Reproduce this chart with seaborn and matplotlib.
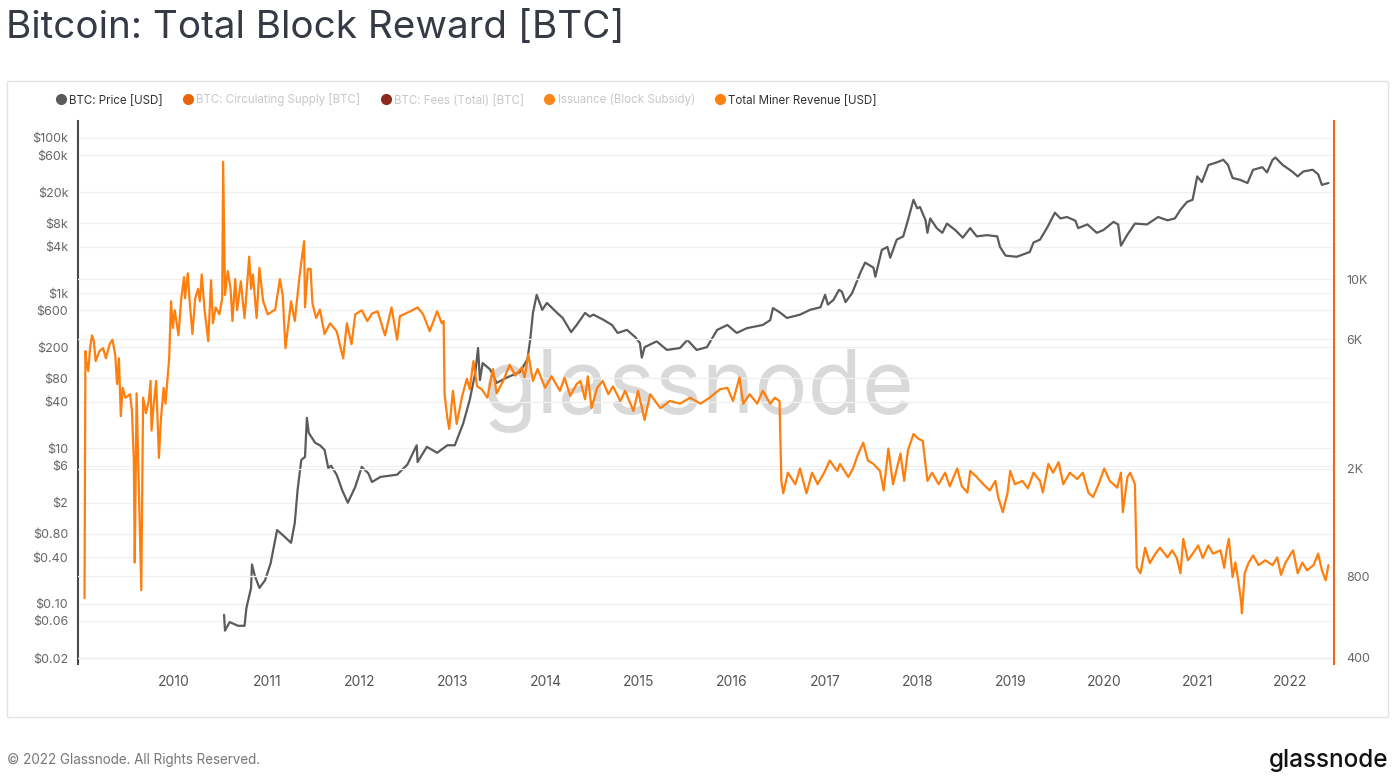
import matplotlib
matplotlib.use('Agg')
import matplotlib.pyplot as plt
from matplotlib.lines import Line2D
from matplotlib.patches import Rectangle
from matplotlib.ticker import NullLocator
import seaborn as sns

sns.set_style('white')
plt.rcParams['font.family'] = ['Inter', 'DejaVu Sans']

# BTC price (USD), x in decimal years
price_years = [2010.54, 2010.55, 2010.60, 2010.69, 2010.76, 2010.78, 2010.83, 2010.84, 2010.87, 2010.92, 2010.98,
               2011.04, 2011.11, 2011.19, 2011.26, 2011.30, 2011.33, 2011.37, 2011.41, 2011.43, 2011.45, 2011.52,
               2011.57, 2011.62, 2011.66, 2011.69, 2011.75, 2011.81, 2011.87, 2011.95,
               2012.02, 2012.09, 2012.13, 2012.22, 2012.40, 2012.51, 2012.61, 2012.62, 2012.72, 2012.83, 2012.94,
               2013.02, 2013.11, 2013.18, 2013.24, 2013.27, 2013.29, 2013.32, 2013.40, 2013.47, 2013.58, 2013.72,
               2013.80, 2013.83, 2013.86, 2013.90, 2013.96,
               2014.01, 2014.12, 2014.18, 2014.27, 2014.33, 2014.42, 2014.47, 2014.51, 2014.61, 2014.71, 2014.77,
               2014.87, 2014.96,
               2015.01, 2015.03, 2015.06, 2015.19, 2015.30, 2015.44, 2015.52, 2015.62, 2015.73, 2015.84, 2015.95,
               2016.05, 2016.16, 2016.33, 2016.41, 2016.44, 2016.52, 2016.59, 2016.73, 2016.84, 2016.95,
               2017.00, 2017.03, 2017.09, 2017.15, 2017.18, 2017.22, 2017.29, 2017.38, 2017.43, 2017.52, 2017.54,
               2017.61, 2017.67, 2017.70, 2017.77, 2017.84, 2017.89, 2017.95, 2017.99,
               2018.02, 2018.08, 2018.10, 2018.13, 2018.20, 2018.26, 2018.31, 2018.40, 2018.48, 2018.56, 2018.63,
               2018.74, 2018.85, 2018.88, 2018.94,
               2019.06, 2019.20, 2019.24, 2019.31, 2019.39, 2019.47, 2019.53, 2019.60, 2019.69, 2019.72, 2019.82,
               2019.92, 2019.99,
               2020.10, 2020.15, 2020.18, 2020.25, 2020.33, 2020.46, 2020.58, 2020.68, 2020.76, 2020.82, 2020.89,
               2020.95,
               2021.00, 2021.05, 2021.12, 2021.22, 2021.28, 2021.33, 2021.38, 2021.46, 2021.54, 2021.60, 2021.70,
               2021.75, 2021.81, 2021.84, 2021.92,
               2022.02, 2022.08, 2022.14, 2022.24, 2022.30, 2022.34, 2022.41]
price_usd = [0.072, 0.045, 0.058, 0.052, 0.052, 0.088, 0.16, 0.32, 0.23, 0.16, 0.20,
             0.33, 0.89, 0.73, 0.61, 1.10, 2.9, 7.1, 7.8, 24.8, 15.9, 11.8,
             11.0, 9.6, 5.6, 6.0, 4.6, 2.9, 2.0, 3.2,
             5.8, 4.8, 3.7, 4.3, 4.6, 6.2, 11.0, 6.7, 10.5, 8.8, 11,
             11, 21, 42, 94, 197, 76, 126, 104, 70, 82, 97,
             140, 250, 558, 953, 612,
             750, 558, 480, 316, 390, 558, 500, 530, 460, 390, 308,
             337, 272,
             228, 148, 202, 240, 186, 197, 250, 186, 202, 337, 390,
             308, 355, 390, 450, 644, 560, 480, 530, 612, 660,
             953, 715, 820, 1105, 1050, 770, 1000, 1850, 2480, 2140, 1630,
             3620, 3950, 2870, 4900, 5400, 8700, 16000, 12400,
             12900, 8700, 6000, 9200, 6900, 6000, 7900, 6500, 5200, 6900, 5400,
             5600, 5400, 3950, 3050,
             2950, 3400, 4500, 4900, 7100, 10900, 9200, 9600, 8600, 6900, 7700,
             6000, 6500,
             8300, 7700, 4100, 5700, 7900, 7700, 9600, 8700, 9200, 11900, 15000,
             16000,
             32000, 27000, 44800, 49000, 52400, 45000, 30500, 28900, 26300, 38900, 42000,
             36000, 52400, 56000, 44800,
             37000, 32000, 37000, 39000, 34000, 24900, 26300]

# Total block reward (right axis)
reward_years = [2009.04, 2009.05, 2009.06, 2009.08, 2009.10, 2009.12, 2009.14, 2009.16, 2009.20, 2009.24,
                2009.27, 2009.31, 2009.34, 2009.37, 2009.39, 2009.41, 2009.43, 2009.45, 2009.48, 2009.53,
                2009.55, 2009.57, 2009.58, 2009.60, 2009.62, 2009.65, 2009.67, 2009.70, 2009.73, 2009.75,
                2009.76, 2009.78, 2009.81, 2009.84, 2009.86, 2009.89, 2009.91, 2009.95, 2009.97, 2009.99,
                2010.01, 2010.05, 2010.08, 2010.11, 2010.12, 2010.15, 2010.17, 2010.20, 2010.23, 2010.26,
                2010.28, 2010.30, 2010.33, 2010.37, 2010.40, 2010.42, 2010.45, 2010.49, 2010.52, 2010.53,
                2010.55, 2010.58, 2010.61, 2010.63, 2010.66, 2010.68, 2010.72, 2010.76, 2010.81, 2010.83,
                2010.85, 2010.89, 2010.92, 2010.96,
                2011.01, 2011.09, 2011.14, 2011.17, 2011.20, 2011.26, 2011.30, 2011.35, 2011.40, 2011.41,
                2011.44, 2011.47, 2011.49, 2011.53, 2011.57, 2011.62, 2011.68, 2011.75, 2011.82, 2011.86,
                2011.91, 2011.95,
                2012.02, 2012.08, 2012.13, 2012.19, 2012.27, 2012.34, 2012.40, 2012.43, 2012.54, 2012.62,
                2012.68, 2012.75, 2012.83, 2012.88, 2012.90, 2012.91, 2012.94, 2012.96,
                2013.00, 2013.04, 2013.10, 2013.15, 2013.18, 2013.22, 2013.26, 2013.31, 2013.37, 2013.43,
                2013.47, 2013.54, 2013.61, 2013.67, 2013.74, 2013.77, 2013.81, 2013.86, 2013.91, 2013.99,
                2014.06, 2014.15, 2014.20, 2014.26, 2014.33, 2014.37, 2014.42, 2014.45, 2014.49, 2014.55,
                2014.61, 2014.67, 2014.72, 2014.80, 2014.85, 2014.94, 2014.99,
                2015.06, 2015.12, 2015.23, 2015.33, 2015.44, 2015.55, 2015.66, 2015.76, 2015.87, 2015.95,
                2016.01, 2016.08, 2016.12, 2016.19, 2016.27, 2016.33, 2016.41, 2016.46, 2016.51, 2016.53,
                2016.55, 2016.60, 2016.68, 2016.73, 2016.80, 2016.86, 2016.92,
                2017.00, 2017.05, 2017.13, 2017.16, 2017.25, 2017.30, 2017.35, 2017.41, 2017.46, 2017.52,
                2017.59, 2017.63, 2017.68, 2017.73, 2017.81, 2017.85, 2017.89, 2017.95,
                2018.00, 2018.05, 2018.10, 2018.15, 2018.22, 2018.29, 2018.34, 2018.42, 2018.47, 2018.53,
                2018.56, 2018.63, 2018.70, 2018.77, 2018.83, 2018.86, 2018.91, 2018.96, 2018.99,
                2019.04, 2019.12, 2019.18, 2019.24, 2019.31, 2019.34, 2019.40, 2019.45, 2019.51, 2019.56,
                2019.63, 2019.71, 2019.77, 2019.83, 2019.88, 2019.94,
                2020.00, 2020.06, 2020.14, 2020.18, 2020.20, 2020.25, 2020.28, 2020.33, 2020.35, 2020.39,
                2020.44, 2020.49, 2020.55, 2020.60, 2020.68, 2020.73, 2020.78, 2020.82, 2020.85, 2020.90,
                2020.96,
                2021.01, 2021.06, 2021.12, 2021.17, 2021.25, 2021.29, 2021.32, 2021.34, 2021.38, 2021.41,
                2021.44, 2021.47, 2021.48, 2021.51, 2021.55, 2021.60, 2021.66, 2021.73, 2021.81, 2021.86,
                2021.90, 2021.95,
                2022.03, 2022.08, 2022.13, 2022.18, 2022.25, 2022.30, 2022.34, 2022.38, 2022.41]
reward_btc = [665, 5420, 4980, 4580, 5560, 6200, 5900, 4980, 5420, 5560,
              5100, 5750, 5970, 5260, 4100, 5100, 3120, 3970, 3650, 3760,
              3260, 2140, 900, 3790, 1930, 711, 3650, 3200, 3550, 4210,
              2760, 3340, 4210, 2190, 3000, 3970, 3470, 5100, 8280, 6600,
              7670, 6200, 8500, 10170, 8500, 10500, 8280, 6270, 8500, 9200,
              8280, 10400, 7720, 5900, 9900, 6870, 7860, 7410, 8500, 27100,
              8740, 10700, 9200, 7000, 10000, 7670, 9810, 7180, 12100, 9200,
              10400, 7180, 11000, 8280,
              7410, 7720, 10000, 8740, 5560, 8280, 7000, 10170, 13800, 7860,
              10900, 10900, 8130, 7180, 7720, 6270, 6870, 6420, 5100, 6870,
              5750, 7410,
              7670, 7000, 7460, 7600, 6200, 7860, 5970, 7300, 7600, 7860,
              7410, 6420, 7600, 6870, 7000, 3760, 3070, 2800,
              3870, 2920, 3710, 4290, 3920, 4980, 4020, 3920, 3650, 4660,
              3790, 4210, 4830, 4400, 4720, 4330, 5280, 4210, 4660, 3970,
              4380, 3870, 4330, 3710, 4100, 4210, 3600, 4380, 3340, 3970,
              4210, 3760, 4020, 3550, 3870, 3260, 3870,
              3020, 3760, 3340, 3550, 3470, 3650, 3470, 3650, 3920, 3970,
              3550, 4330, 3470, 3760, 3470, 3870, 3470, 3650, 3550, 1800,
              1620, 1930, 1750, 2000, 1620, 1930, 1750,
              1960, 2140, 1960, 2080, 1860, 2000, 2240, 2490, 2140, 2080,
              1960, 1660, 2370, 1750, 2270, 1800, 2330, 2680,
              2580, 2530, 1800, 1930, 1750, 1930, 1720, 2000, 1720, 1630,
              1960, 1860, 1750, 1660, 1800, 1570, 1380, 1620, 1960,
              1750, 1800, 1690, 1930, 1800, 1630, 2080, 1930, 2110, 1750,
              1930, 1830, 1930, 1630, 1570, 1750,
              2000, 1800, 1700, 1930, 1380, 1860, 1930, 1750, 865, 821,
              1020, 895, 970, 1020, 940, 998, 935, 821, 1100, 917,
              980,
              1040, 935, 1040, 970, 998, 860, 1020, 1100, 795, 900,
              774, 653, 585, 821, 895, 955, 880, 917, 880, 940,
              810, 900,
              998, 821, 900, 842, 880, 970, 842, 774, 880]

year_ticks = list(range(2010, 2023))
left_ticks = [0.02, 0.06, 0.1, 0.4, 0.8, 2, 6, 10, 40, 80, 200, 600, 1000, 4000, 8000, 20000, 60000, 100000]
left_labels = ['$0.02', '$0.06', '$0.10', '$0.40', '$0.80', '$2', '$6', '$10', '$40', '$80', '$200', '$600',
               '$1k', '$4k', '$8k', '$20k', '$60k', '$100k']
right_ticks = [400, 800, 2000, 6000, 10000]
right_labels = ['400', '800', '2K', '6K', '10K']

legend_labels = ['BTC: Price [USD]', 'BTC: Circulating Supply [BTC]', 'BTC: Fees (Total) [BTC]',
                 'Issuance (Block Subsidy)', 'Total Miner Revenue [USD]']
legend_colors = ['#5b5b5b', '#e8650a', '#8b2a1f', '#f7861b', '#ff7f0e']
legend_text_colors = ['#333333', '#c8c8c8', '#c8c8c8', '#c8c8c8', '#333333']

price_color = '#5b5b5b'
reward_color = '#ff7f0e'
axis_orange = '#f0661a'
grid_color = '#f0f0f0'
tick_color = '#666666'

fig = plt.figure(figsize=(14, 7.84), dpi=100)

# card frame
fig.patches.append(Rectangle((7 / 1400, 1 - 717 / 784), 1381 / 1400, 636 / 784, transform=fig.transFigure,
                             fill=False, edgecolor='#e3e3e3', linewidth=1))

ax = fig.add_axes([78 / 1400, 1 - 664 / 784, 1256 / 1400, 543 / 784])
ax2 = ax.twinx()

ax.text(0.494, 0.505, 'glassnode', transform=ax.transAxes, ha='center', va='center',
        fontsize=64, color='#d9d9d9', zorder=0)

sns.lineplot(x=price_years, y=price_usd, ax=ax, color=price_color, linewidth=1.6, estimator=None, zorder=3)
sns.lineplot(x=reward_years, y=reward_btc, ax=ax2, color=reward_color, linewidth=1.6, estimator=None, zorder=3)

ax.set_yscale('log')
ax2.set_yscale('log')
ax.set_ylim(0.01674, 165500)
ax2.set_ylim(380, 38300)
ax.set_xlim(2008.97, 2022.47)

ax.set_yticks(left_ticks)
ax.set_yticklabels(left_labels)
ax2.set_yticks(right_ticks)
ax2.set_yticklabels(right_labels)
ax.yaxis.set_minor_locator(NullLocator())
ax2.yaxis.set_minor_locator(NullLocator())
ax.set_xticks(year_ticks)
ax.set_xticklabels([str(y) for y in year_ticks])

ax.grid(True, axis='y', color=grid_color, linewidth=1)
ax2.grid(True, axis='y', color=grid_color, linewidth=1)
ax.grid(False, axis='x')
ax.set_axisbelow(True)

ax.tick_params(axis='y', length=0, pad=7, labelsize=9, labelcolor=tick_color)
ax2.tick_params(axis='y', length=0, pad=9, labelsize=9, labelcolor=tick_color)
ax.tick_params(axis='x', length=5, width=1, color='#dddddd', pad=3, labelsize=10, labelcolor='#555555')

for s in ['top', 'right', 'bottom']:
    ax.spines[s].set_visible(False)
for s in ['top', 'left', 'bottom']:
    ax2.spines[s].set_visible(False)
ax.spines['left'].set_color('#4a4a4a')
ax.spines['left'].set_linewidth(1.5)
ax2.spines['right'].set_visible(True)
ax2.spines['right'].set_color(axis_orange)
ax2.spines['right'].set_linewidth(1.5)
ax.set_xlabel('')
ax.set_ylabel('')
ax2.set_ylabel('')

handles = [Line2D([], [], marker='o', linestyle='', markersize=7, color=c) for c in legend_colors]
leg = fig.legend(handles, legend_labels, loc='center left', bbox_to_anchor=(44 / 1400, 1 - 100 / 784),
                 ncol=5, frameon=False, fontsize=8.3, handletextpad=0.1, columnspacing=1.6, handlelength=1.2)
for t, c in zip(leg.get_texts(), legend_text_colors):
    t.set_color(c)

fig.text(6 / 1400, 1 - 28 / 784, 'Bitcoin: Total Block Reward [BTC]', fontsize=27.8, color='#353a45',
         ha='left', va='center')
fig.text(7 / 1400, 1 - 760 / 784, '\u00a9 2022 Glassnode. All Rights Reserved.', fontsize=9.7,
         color='#777777', ha='left', va='center')
fig.text(1388 / 1400, 1 - 761 / 784, 'glassnode', fontsize=17.5, color='#111111', ha='right', va='center',
         fontweight='medium')

fig.savefig('out.png', dpi=100)
